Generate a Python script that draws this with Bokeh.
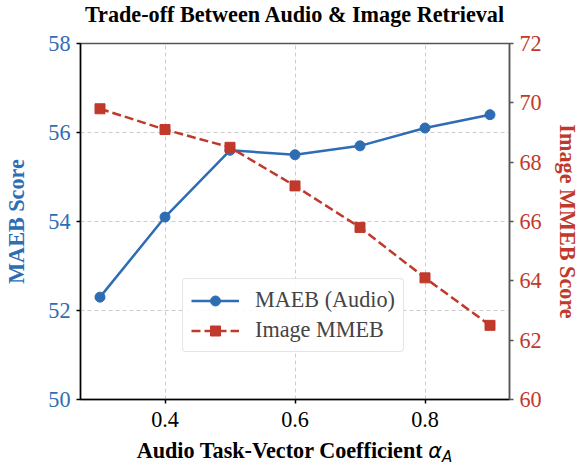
from bokeh.plotting import figure
from bokeh.models import Range1d, LinearAxis, FixedTicker, Legend, LegendItem, Div
from bokeh.layouts import column
from bokeh.embed import file_html
from bokeh.resources import INLINE

# ---- data ----
alpha_a = [0.3, 0.4, 0.5, 0.6, 0.7, 0.8, 0.9]
maeb_audio = [52.3, 54.1, 55.6, 55.5, 55.7, 56.1, 56.4]
image_mmeb = [69.8, 69.1, 68.5, 67.2, 65.8, 64.1, 62.5]
x_ticks = [0.4, 0.6, 0.8]
left_ticks = [50, 52, 54, 56, 58]
right_ticks = [60, 62, 64, 66, 68, 70, 72]

title_text = "Trade-off Between Audio &amp; Image Retrieval"
x_label_main = "Audio Task-Vector Coefficient"
x_label_sym = "α"
x_label_sub = "A"
left_label = "MAEB Score"
right_label = "Image MMEB Score"
legend_labels = ["MAEB (Audio)", "Image MMEB"]

BLUE = "#2e6db4"
RED = "#c0392b"
FONT = "Liberation Serif"
FS = "22.2px"

p = figure(width=582, height=411, output_backend="svg", toolbar_location=None,
           title=None,
           x_range=Range1d(0.27, 0.93), y_range=Range1d(50, 58),
           min_border_left=80, min_border_right=73, min_border_top=14,
           min_border_bottom=41, background_fill_color="white",
           border_fill_color="white", margin=0)
p.extra_y_ranges = {"right": Range1d(60, 72)}

p.outline_line_color = "#555555"
p.outline_line_width = 1.5

# left axis
ya = p.yaxis[0]
ya.ticker = FixedTicker(ticks=left_ticks)
ya.axis_label = left_label
ya.axis_label_text_font = FONT
ya.axis_label_text_font_size = FS
ya.axis_label_text_font_style = "bold"
ya.axis_label_text_color = BLUE
ya.axis_label_standoff = 16
ya.major_label_text_font = FONT
ya.major_label_text_font_size = FS
ya.major_label_text_color = BLUE
ya.major_label_standoff = 6
ya.minor_tick_line_color = None
ya.major_tick_in = 0
ya.major_tick_out = 4
ya.axis_line_color = "black"
ya.axis_line_width = 1.5
ya.major_tick_line_width = 1.5

# right axis
ra = LinearAxis(y_range_name="right", ticker=FixedTicker(ticks=right_ticks))
ra.axis_label = right_label
ra.axis_label_text_font = FONT
ra.axis_label_text_font_size = FS
ra.axis_label_text_font_style = "bold"
ra.axis_label_text_color = RED
ra.axis_label_standoff = 10
ra.major_label_text_font = FONT
ra.major_label_text_font_size = FS
ra.major_label_text_color = RED
ra.major_label_standoff = 6
ra.minor_tick_line_color = None
ra.major_tick_in = 0
ra.major_tick_out = 4
ra.axis_line_color = "#555555"
ra.major_tick_line_color = "#555555"
ra.axis_line_width = 1.5
ra.major_tick_line_width = 1.5
p.add_layout(ra, "right")

# x axis
xa = p.xaxis[0]
xa.ticker = FixedTicker(ticks=x_ticks)
xa.major_label_text_font = FONT
xa.major_label_text_font_size = FS
xa.major_label_text_color = "black"
xa.major_label_standoff = 8
xa.minor_tick_line_color = None
xa.major_tick_in = 0
xa.major_tick_out = 4
xa.axis_line_color = "black"
xa.axis_line_width = 1.5
xa.major_tick_line_width = 1.5

# grid
p.xgrid.ticker = FixedTicker(ticks=x_ticks)
p.ygrid.ticker = FixedTicker(ticks=left_ticks)
for g in (p.xgrid[0], p.ygrid[0]):
    g.grid_line_color = "#cccccc"
    g.grid_line_dash = "4 3"
    g.grid_line_width = 1

# series
l1 = p.line(alpha_a, maeb_audio, line_color=BLUE, line_width=2.5)
s1 = p.scatter(alpha_a, maeb_audio, marker="circle", size=10,
               fill_color=BLUE, line_color=BLUE)
l2 = p.line(alpha_a, image_mmeb, line_color=RED, line_width=2.5,
            line_dash="9 4", y_range_name="right")
s2 = p.scatter(alpha_a, image_mmeb, marker="square", size=10,
               fill_color=RED, line_color=RED, y_range_name="right")

legend = Legend(items=[LegendItem(label=legend_labels[0], renderers=[l1, s1]),
                       LegendItem(label=legend_labels[1], renderers=[l2, s2])],
                location=(102, 47))
legend.label_text_font = FONT
legend.label_text_font_size = FS
legend.label_standoff = 16
legend.glyph_width = 48
legend.glyph_height = 25
legend.spacing = 4
legend.padding = 8
legend.margin = 0
legend.border_line_color = "#cccccc"
legend.border_line_width = 1
legend.border_radius = 4
legend.background_fill_alpha = 0.85
p.add_layout(legend, "center")

# title as real HTML text above the figure
title_div = Div(
    text=f'<span style="font-weight:bold">{title_text}</span>',
    width=582, height=29, margin=0,
    styles={"text-align": "center", "font-family": FONT, "font-size": FS,
            "line-height": "29px", "color": "black", "padding-left": "7px",
            "box-sizing": "border-box", "white-space": "nowrap"})

# x axis label (with subscripted alpha) as real HTML text below the figure
xlabel = Div(
    text=(f'<span style="font-weight:bold">{x_label_main} </span>'
          f'<span style="font-family:\'DejaVu Sans\';font-style:italic;font-size:21px">{x_label_sym}'
          f'<span style="font-size:15px;position:relative;top:4px">{x_label_sub}</span></span>'),
    width=582, height=26, margin=0,
    styles={"text-align": "center", "font-family": FONT, "font-size": FS,
            "line-height": "22px", "color": "black", "padding-left": "7px",
            "box-sizing": "border-box", "white-space": "nowrap"})

layout = column(title_div, p, xlabel, spacing=0, margin=0)
open("out.html", "w").write(file_html(layout, INLINE))
